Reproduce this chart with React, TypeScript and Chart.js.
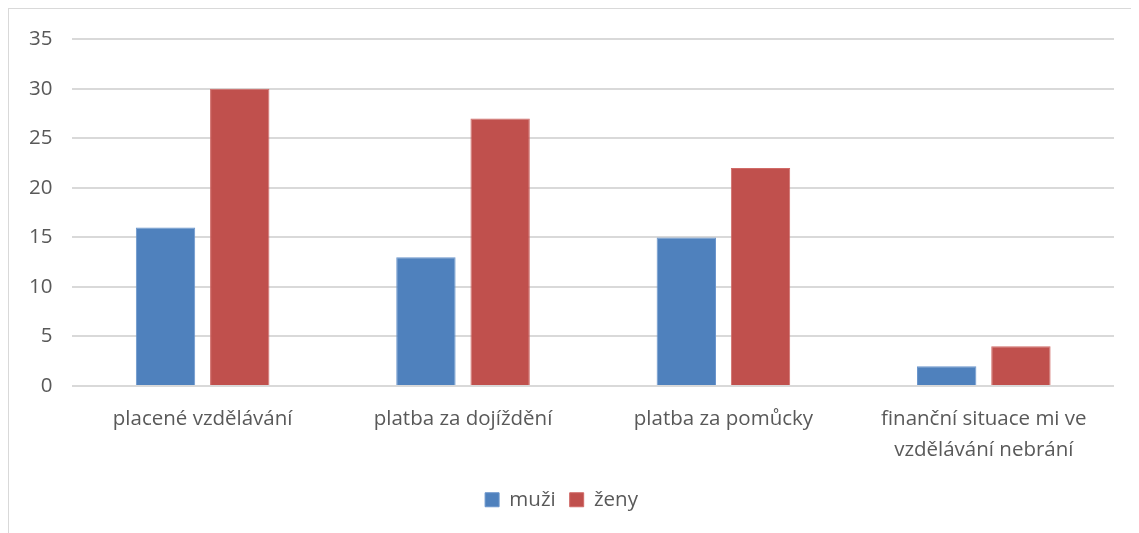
import React, { useEffect, useRef } from "react";
import { Chart, registerables } from "chart.js";

Chart.register(...registerables);

const categories: (string | string[])[] = [
  "placené vzdělávání",
  "platba za dojíždění",
  "platba za pomůcky",
  ["finanční situace mi ve", "vzdělávání nebrání"],
];
const muzi = [16, 13, 15, 2];
const zeny = [30, 27, 22, 4];
const yTicks = { min: 0, max: 35, step: 5 };

export default function App() {
  const ref = useRef<HTMLCanvasElement>(null);
  useEffect(() => {
    if (!ref.current) return;
    const font = { family: "'Open Sans', 'Noto Sans', sans-serif", size: 20.5 };
    const chart = new Chart(ref.current, {
      type: "bar",
      data: {
        labels: categories,
        datasets: [
          {
            label: "muži",
            data: muzi,
            backgroundColor: "#4f81bd",
            borderColor: "#6a95cc",
            borderWidth: 1,
          },
          {
            label: "ženy",
            data: zeny,
            backgroundColor: "#c0504d",
            borderColor: "#d06a67",
            borderWidth: 1,
          },
        ],
      },
      options: {
        responsive: false,
        animation: false,
        datasets: { bar: { barPercentage: 0.8, categoryPercentage: 0.57 } },
        layout: { padding: { left: 0, right: 33, top: 16, bottom: 19 } },
        plugins: {
          legend: {
            position: "bottom",
            labels: { font, color: "#595959", boxWidth: 14, boxHeight: 14, padding: 14 },
          },
          tooltip: { enabled: false },
        },
        scales: {
          x: {
            grid: { display: false },
            border: { display: false },
            ticks: { font: { ...font, lineHeight: 1.5 }, color: "#595959", maxRotation: 0, padding: 10 },
          },
          y: {
            min: yTicks.min,
            max: yTicks.max,
            ticks: { stepSize: yTicks.step, font: { ...font, lineHeight: 1.0 }, color: "#595959", padding: 20 },
            grid: { color: "#d9d9d9", lineWidth: 2, drawTicks: false },
            border: { display: false },
          },
        },
      },
    });
    return () => chart.destroy();
  }, []);
  return (
    <div
      style={{
        width: 1140,
        height: 540,
        border: "1px solid #d9d9d9",
        boxSizing: "border-box",
        background: "#fff",
      }}
    >
      <canvas ref={ref} width={1138} height={530} />
    </div>
  );
}
